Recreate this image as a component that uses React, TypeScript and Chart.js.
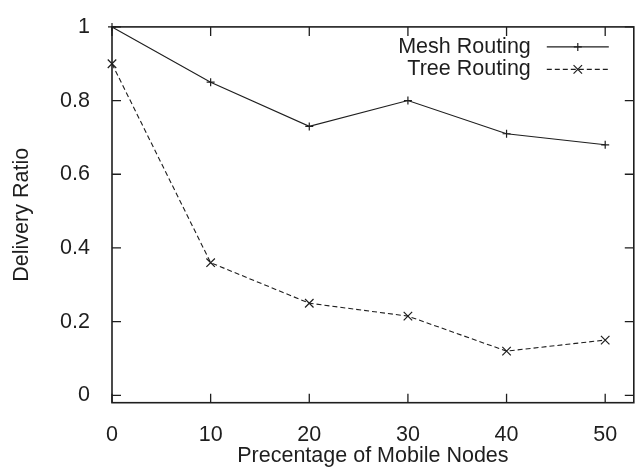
import { useEffect, useRef } from 'react';
import { Chart, registerables } from 'chart.js';

Chart.register(...registerables);

const xValues = [0, 10, 20, 30, 40, 50];
const meshRouting = [1.0, 0.85, 0.73, 0.8, 0.71, 0.68];
const treeRouting = [0.9, 0.36, 0.25, 0.215, 0.12, 0.15];
const seriesLabels = ['Mesh Routing', 'Tree Routing'];
const xTicks = [0, 10, 20, 30, 40, 50];
const yTicks = [0, 0.2, 0.4, 0.6, 0.8, 1];
const xTitle = 'Precentage of Mobile Nodes';
const yTitle = 'Delivery Ratio';

const FONT = "'Liberation Sans', Arial, Helvetica, sans-serif";
const FSIZE = 21.5;
const INK = '#1e1e1e';

function drawMarker(ctx: CanvasRenderingContext2D, style: string, x: number, y: number, r: number) {
  ctx.beginPath();
  if (style === 'crossRot') {
    const d = r * Math.SQRT1_2;
    ctx.moveTo(x - d, y - d); ctx.lineTo(x + d, y + d);
    ctx.moveTo(x - d, y + d); ctx.lineTo(x + d, y - d);
  } else {
    ctx.moveTo(x - r, y); ctx.lineTo(x + r, y);
    ctx.moveTo(x, y - r); ctx.lineTo(x, y + r);
  }
  ctx.stroke();
}

const framePlugin = {
  id: 'frame',
  beforeDatasetsDraw(chart: any) {
    const { ctx, chartArea: a, scales } = chart;
    const x = scales.x, y = scales.y;
    ctx.save();
    ctx.strokeStyle = INK;
    ctx.lineWidth = 1.6;
    ctx.strokeRect(a.left, a.top, a.right - a.left, a.bottom - a.top);
    ctx.lineWidth = 1.3;
    ctx.beginPath();
    const tl = 9;
    for (const v of xTicks) {
      const px = x.getPixelForValue(v);
      ctx.moveTo(px, a.bottom); ctx.lineTo(px, a.bottom - tl);
      ctx.moveTo(px, a.top); ctx.lineTo(px, a.top + tl);
    }
    for (const v of yTicks) {
      const py = y.getPixelForValue(v);
      ctx.moveTo(a.left, py); ctx.lineTo(a.left + tl, py);
      ctx.moveTo(a.right, py); ctx.lineTo(a.right - tl, py);
    }
    ctx.stroke();
    ctx.restore();
  },
};

const keyPlugin = {
  id: 'key',
  afterDatasetsDraw(chart: any) {
    const { ctx, chartArea: a } = chart;
    ctx.save();
    chart.data.datasets.forEach((ds: any, i: number) => {
      const yy = a.top + 20 + i * 22.5;
      const lineEnd = a.right - 25;
      const lineStart = lineEnd - 62;
      ctx.fillStyle = INK;
      ctx.font = `${FSIZE}px ${FONT}`;
      ctx.textAlign = 'right';
      ctx.textBaseline = 'middle';
      ctx.fillText(ds.label, lineStart - 16, yy);
      ctx.strokeStyle = ds.borderColor;
      ctx.lineWidth = ds.borderWidth;
      ctx.setLineDash(ds.borderDash || []);
      ctx.beginPath();
      ctx.moveTo(lineStart, yy);
      ctx.lineTo(lineEnd, yy);
      ctx.stroke();
      ctx.setLineDash([]);
      ctx.lineWidth = 1.2;
      drawMarker(ctx, ds.pointStyle, (lineStart + lineEnd) / 2, yy, ds.pointRadius);
    });
    ctx.restore();
  },
};

export default function App() {
  const ref = useRef<HTMLCanvasElement | null>(null);

  useEffect(() => {
    document.body.style.margin = '0';
    const canvas = ref.current;
    if (!canvas) return;
    const chart = new Chart(canvas, {
      type: 'line',
      data: {
        datasets: [
          {
            label: seriesLabels[0],
            data: xValues.map((x, i) => ({ x, y: meshRouting[i] })),
            borderColor: INK,
            borderWidth: 1.1,
            pointStyle: 'cross',
            pointRadius: 4,
            pointBorderWidth: 1.2,
            pointBorderColor: INK,
            pointBackgroundColor: INK,
            fill: false,
            tension: 0,
            clip: false as any,
          },
          {
            label: seriesLabels[1],
            data: xValues.map((x, i) => ({ x, y: treeRouting[i] })),
            borderColor: INK,
            borderWidth: 1.1,
            borderDash: [5, 3],
            pointStyle: 'crossRot',
            pointRadius: 6,
            pointBorderWidth: 1.2,
            pointBorderColor: INK,
            pointBackgroundColor: INK,
            fill: false,
            tension: 0,
            clip: false as any,
          },
        ],
      },
      options: {
        animation: false,
        responsive: false,
        devicePixelRatio: 1,
        layout: { padding: { top: 19.5, right: 1, left: 0, bottom: 0 } },
        plugins: {
          legend: { display: false },
          tooltip: { enabled: false },
        },
        scales: {
          x: {
            type: 'linear',
            min: 0,
            max: 52.9,
            grid: { display: false },
            border: { display: false },
            afterBuildTicks: (s: any) => {
              s.ticks = xTicks.map((v) => ({ value: v }));
            },
            afterFit: (s: any) => {
              s.height = 66.3;
            },
            ticks: {
              padding: 11,
              color: INK,
              font: { family: FONT, size: FSIZE },
              callback: (v: any) => String(v),
            },
            title: {
              display: true,
              text: xTitle,
              color: INK,
              font: { family: FONT, size: FSIZE },
              padding: { top: 0, bottom: 0 },
            },
          },
          y: {
            type: 'linear',
            min: -0.02,
            max: 1,
            grid: { display: false },
            border: { display: false },
            afterBuildTicks: (s: any) => {
              s.ticks = yTicks.map((v) => ({ value: v }));
            },
            afterFit: (s: any) => {
              s.width = 112;
            },
            ticks: {
              padding: 14,
              color: INK,
              font: { family: FONT, size: FSIZE },
              callback: (v: any) => String(v),
            },
            title: {
              display: true,
              text: yTitle,
              color: INK,
              font: { family: FONT, size: FSIZE },
              padding: { top: 9, bottom: 0 },
            },
          },
        },
      },
      plugins: [framePlugin, keyPlugin],
    });
    return () => chart.destroy();
  }, []);

  return (
    <div style={{ width: 641, height: 469, position: 'relative', background: '#fff' }}>
      <canvas ref={ref} width={641} height={469} style={{ display: 'block', width: 641, height: 469 }} />
    </div>
  );
}
